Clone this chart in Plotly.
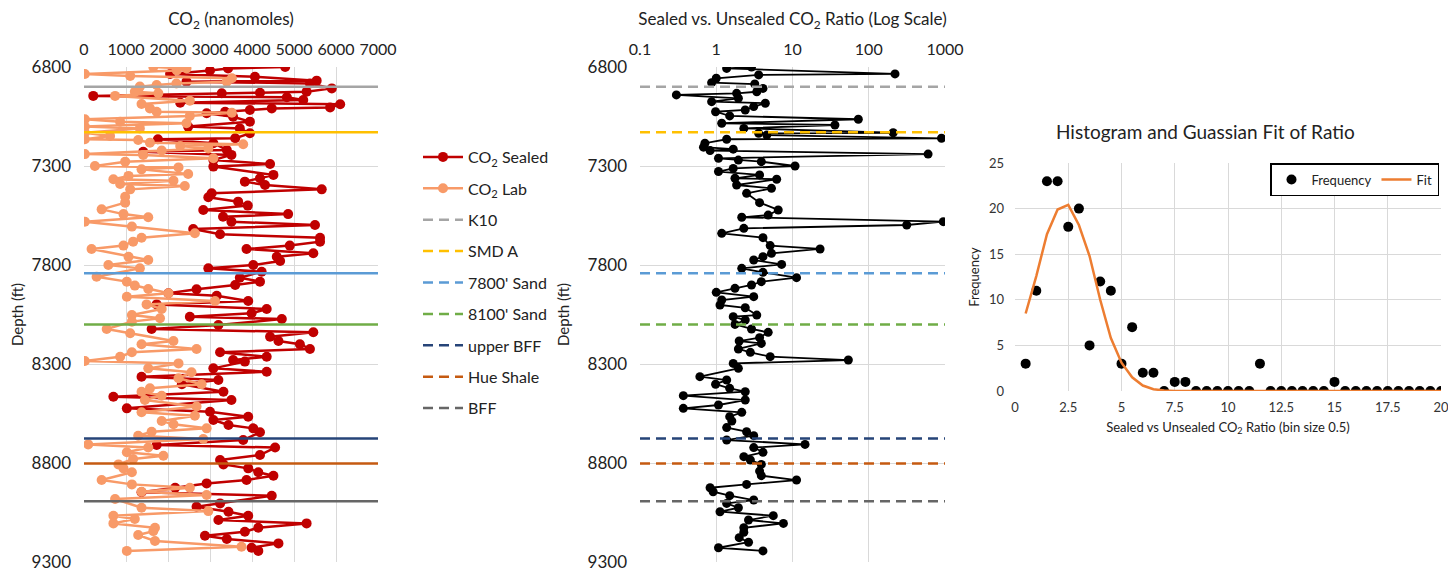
import plotly.graph_objects as go

# ---------------- data ----------------
sealed_depth = [6800, 6807, 6818, 6835, 6849, 6869, 6874, 6883, 6908, 6925, 6930, 6933, 6946, 6953, 6967, 6980,
                6988, 7004, 7009, 7017, 7026, 7034, 7051, 7076, 7101, 7110, 7135, 7160, 7165, 7185, 7219, 7228,
                7244, 7270, 7290, 7303, 7345, 7362, 7379, 7396, 7418, 7438, 7458, 7480, 7500, 7522, 7543, 7556,
                7581, 7598, 7618, 7645, 7662, 7682, 7702, 7719, 7741, 7758, 7780, 7800, 7817, 7834, 7864, 7884,
                7901, 7923, 7943, 7955, 7982, 7999, 8022, 8044, 8061, 8073, 8103, 8123, 8140, 8162, 8184, 8200,
                8224, 8241, 8263, 8280, 8288, 8322, 8339, 8364, 8381, 8402, 8440, 8465, 8482, 8524, 8541, 8566,
                8583, 8608, 8625, 8645, 8684, 8709, 8722, 8760, 8785, 8807, 8827, 8847, 8864, 8886, 8903, 8925,
                8948, 8965, 9004, 9021, 9046, 9066, 9088, 9105, 9127, 9147, 9167, 9184, 9206, 9228, 9244]
sealed_co2 = [4790, 3430, 3000, 2050, 4070, 5540, 2440, 5380, 5900, 5300, 4190, 3280, 220, 4830, 5220, 2290,
              6100, 5860, 4470, 3950, 3360, 2920, 3550, 3950, 2480, 3710, 3950, 3600, 1760, 3080, 3400, 1410,
              3510, 3080, 4430, 3080, 4510, 4190, 3830, 4310, 5660, 3040, 2960, 3670, 3900, 2840, 4860, 3310,
              3510, 5500, 2600, 3240, 5620, 5620, 4900, 3870, 5460, 4590, 4670, 4030, 2960, 4230, 3710, 4190,
              3600, 2680, 2010, 3160, 3910, 1730, 4350, 3990, 2520, 4710, 3200, 1610, 5460, 4430, 4630, 5140,
              5380, 3240, 4350, 3550, 3830, 3080, 4350, 1370, 3200, 2330, 3320, 700, 3510, 1020, 3000, 3910,
              3080, 3440, 4030, 4190, 3790, 1730, 4550, 4190, 3240, 3320, 3910, 4150, 4510, 3870, 2920, 2170,
              1370, 4470, 3240, 2680, 3440, 3910, 3200, 5300, 4150, 3830, 2880, 3400, 4630, 3990, 4150]

lab_depth = [6800, 6807, 6818, 6835, 6845, 6857, 6874, 6883, 6891, 6899, 6925, 6933, 6946, 6970, 6987, 7009,
             7026, 7031, 7047, 7064, 7076, 7084, 7101, 7110, 7132, 7148, 7165, 7169, 7182, 7190, 7199, 7211,
             7222, 7240, 7244, 7261, 7278, 7300, 7307, 7317, 7340, 7350, 7367, 7374, 7391, 7401, 7418, 7455,
             7485, 7519, 7543, 7559, 7581, 7606, 7640, 7662, 7682, 7702, 7719, 7758, 7775, 7800, 7817, 7859,
             7884, 7904, 7921, 7943, 7960, 7982, 7999, 8022, 8053, 8069, 8086, 8123, 8145, 8184, 8200, 8224,
             8241, 8263, 8285, 8297, 8322, 8342, 8372, 8402, 8423, 8440, 8460, 8482, 8515, 8544, 8561, 8588,
             8604, 8625, 8642, 8662, 8679, 8706, 8722, 8746, 8763, 8780, 8807, 8827, 8847, 8886, 8908, 8925,
             8945, 8962, 8982, 9026, 9043, 9066, 9083, 9105, 9127, 9144, 9164, 9194, 9223, 9244]
lab_co2 = [1650, 2440, 2210, 20, 1100, 3520, 3400, 2200, 1730, 1330, 1210, 1770, 740, 2520, 1370, 1570,
           1730, 3520, 2520, 20, 860, 2440, 20, 1330, 20, 620, 20, 1290, 1570, 3790, 2290, 2960,
           1850, 20, 1410, 3080, 980, 260, 2250, 1370, 2480, 1060, 700, 2130, 860, 2400, 1100, 980,
           980, 420, 940, 1530, 20, 1140, 2640, 1370, 1170, 940, 180, 1060, 1530, 580, 1330, 300,
           1020, 1210, 1530, 2010, 1020, 3120, 1490, 1850, 1140, 1810, 1140, 540, 1100, 2130, 1370, 2680,
           1140, 860, 20, 2250, 1530, 2560, 2250, 2800, 1570, 1370, 1850, 1450, 2680, 1370, 2640, 1850,
           2130, 2920, 1610, 1290, 2840, 100, 1530, 1020, 1890, 1170, 820, 940, 1140, 420, 1140, 2520,
           1370, 2920, 740, 1370, 2960, 700, 1210, 700, 1690, 1650, 1290, 1690, 3750, 1020]

ratio_depth = [6800, 6807, 6835, 6840, 6857, 6879, 6886, 6908, 6925, 6933, 6941, 6958, 6975, 6983, 7000, 7017,
               7026, 7047, 7064, 7084, 7093, 7110, 7132, 7135, 7144, 7160, 7165, 7185, 7205, 7215, 7222, 7240,
               7261, 7270, 7278, 7300, 7312, 7328, 7345, 7362, 7367, 7396, 7413, 7438, 7485, 7522, 7548, 7559,
               7581, 7598, 7615, 7640, 7662, 7702, 7719, 7741, 7758, 7775, 7797, 7817, 7837, 7864, 7884, 7901,
               7918, 7938, 7960, 7977, 8002, 8016, 8053, 8061, 8078, 8100, 8123, 8140, 8167, 8184, 8196, 8224,
               8241, 8263, 8280, 8297, 8322, 8364, 8381, 8402, 8423, 8440, 8460, 8482, 8507, 8524, 8544, 8566,
               8588, 8621, 8642, 8662, 8684, 8706, 8722, 8746, 8768, 8785, 8807, 8841, 8864, 8886, 8908, 8925,
               8945, 8965, 8987, 9004, 9026, 9046, 9066, 9088, 9105, 9127, 9150, 9177, 9200, 9228, 9244]
ratio = [2.9, 1.37, 221, 3.6, 1.0, 0.87, 3.2, 4.1, 3.4, 1.85, 0.30, 1.95, 0.87, 4.4, 3.1, 2.4,
         0.98, 1.5, 73, 1.18, 36, 2.3, 209, 3.6, 4.6, 900, 1.37, 0.71, 0.68, 1.67, 0.83, 600,
         1.07, 1.95, 3.9, 10.8, 1.67, 1.07, 3.7, 1.76, 6.2, 1.85, 5.3, 2.5, 3.7, 6.5, 4.8, 2.16,
         950, 315, 2.3, 1.18, 4.1, 5.1, 23, 5.3, 4.1, 3.1, 7.2, 2.16, 4.1, 11.3, 3.9, 2.9,
         1.76, 1.0, 3.1, 1.18, 1.12, 2.4, 3.4, 1.67, 2.4, 1.76, 2.9, 4.8, 3.7, 2.0, 3.9, 1.95,
         2.8, 5.1, 54, 1.67, 1.95, 0.61, 1.37, 0.98, 1.5, 2.4, 0.37, 2.4, 1.07, 0.37, 2.16, 1.5,
         1.6, 1.37, 2.5, 3.1, 1.37, 14.6, 3.1, 4.1, 2.3, 2.8, 3.9, 3.7, 3.9, 11.3, 2.5, 0.83,
         0.91, 1.5, 3.1, 1.37, 1.95, 1.12, 5.6, 2.65, 7.6, 2.3, 2.3, 2.0, 2.65, 1.07, 4.1]

formation_names = ["K10", "SMD A", "7800' Sand", "8100' Sand", "upper BFF", "Hue Shale", "BFF"]
formation_depths = [6900, 7130, 7842, 8100, 8676, 8803, 8993]
formation_colors = ["#A5A5A5", "#FFC000", "#5B9BD5", "#70AD47", "#264478", "#C55A11", "#666666"]

bins = [0.5, 1, 1.5, 2, 2.5, 3, 3.5, 4, 4.5, 5, 5.5, 6, 6.5, 7, 7.5, 8, 8.5, 9, 9.5, 10,
        10.5, 11, 11.5, 12, 12.5, 13, 13.5, 14, 14.5, 15, 15.5, 16, 16.5, 17, 17.5, 18, 18.5, 19, 19.5, 20]
frequency = [3, 11, 23, 23, 18, 20, 5, 12, 11, 3, 7, 2, 2, 0, 1, 1, 0, 0, 0, 0,
             0, 0, 3, 0, 0, 0, 0, 0, 0, 1, 0, 0, 0, 0, 0, 0, 0, 0, 0, 0]
fit = [8.5, 12.6, 17.2, 19.9, 20.4, 18.2, 14.8, 10.0, 5.8, 3.1, 1.5, 0.6, 0.2, 0.05, 0.01, 0, 0, 0, 0, 0,
       0, 0, 0, 0, 0, 0, 0, 0, 0, 0, 0, 0, 0, 0, 0, 0, 0, 0, 0, 0]

# ---------------- figure ----------------
W, H = 1456, 571
OX, OY = 8, 8  # page body margin offset
FONT = "Lato, Carlito, Calibri, sans-serif"
GRID = "#D9D9D9"
RED = "#C00000"
LAB = "#F89A68"


def px(x):
    return (x - OX) / W


def py(y):
    return 1 - (y - OY) / H


def dx(a, b):
    return [px(a), px(b)]


def dy(top, bottom):
    return [py(bottom), py(top)]


fig = go.Figure()

# left panel
fig.add_trace(go.Scatter(x=sealed_co2, y=sealed_depth, mode="lines+markers", name="CO<sub>2</sub> Sealed",
                         line=dict(color=RED, width=2.5), marker=dict(color=RED, size=10),
                         xaxis="x", yaxis="y", legendgroup="a", legend="legend"))
fig.add_trace(go.Scatter(x=lab_co2, y=lab_depth, mode="lines+markers", name="CO<sub>2</sub> Lab",
                         line=dict(color=LAB, width=2.5), marker=dict(color=LAB, size=10),
                         xaxis="x", yaxis="y", legendgroup="b", legend="legend"))
for nm, d, c in zip(formation_names, formation_depths, formation_colors):
    fig.add_trace(go.Scatter(x=[0, 7000], y=[d, d], mode="lines", name=nm, showlegend=False,
                             line=dict(color=c, width=2.5), xaxis="x", yaxis="y", hoverinfo="skip"))

# middle panel
fig.add_trace(go.Scatter(x=ratio, y=ratio_depth, mode="lines+markers", name="Ratio", showlegend=False,
                         line=dict(color="black", width=1.8), marker=dict(color="black", size=9),
                         xaxis="x2", yaxis="y2"))
for i, (nm, d, c) in enumerate(zip(formation_names, formation_depths, formation_colors)):
    fig.add_trace(go.Scatter(x=[0.1, 1000], y=[d, d], mode="lines", name=nm,
                             line=dict(color=c, width=2.5, dash="10px,6px"),
                             xaxis="x2", yaxis="y2", legendgroup="f%d" % i, legend="legend"))

# right panel
fig.add_trace(go.Scatter(x=bins, y=frequency, mode="markers", name="Frequency",
                         marker=dict(color="black", size=10), xaxis="x3", yaxis="y3", legend="legend2"))
fig.add_trace(go.Scatter(x=bins, y=fit, mode="lines", name="Fit",
                         line=dict(color="#ED7D31", width=2.5), xaxis="x3", yaxis="y3", legend="legend2"))

axis_common = dict(showgrid=True, gridcolor=GRID, gridwidth=1, zeroline=False, showline=False,
                   ticks="", automargin=False, tickfont=dict(size=15, color="#222"))

depth_axis = dict(axis_common, range=[9300, 6800], tickvals=[6800, 7300, 7800, 8300, 8800, 9300],
                  tickfont=dict(size=17, color="#222"), ticklabelstandoff=12,
                  title=dict(text="Depth (ft)", font=dict(size=15, color="#222"), standoff=14))

fig.update_layout(
    width=W, height=H,
    margin=dict(l=0, r=0, t=0, b=0, autoexpand=False),
    paper_bgcolor="white", plot_bgcolor="white",
    font=dict(family=FONT, color="#222"),
    xaxis=dict(axis_common, domain=dx(84, 378), range=[0, 7000], dtick=1000, side="top",
               anchor="y", ticklabelstandoff=8, tickfont=dict(size=16, color="#222"),
               title=dict(text="CO<sub>2</sub> (nanomoles)", font=dict(size=17, color="#222"), standoff=10)),
    yaxis=dict(depth_axis, domain=dy(67, 562), anchor="x"),
    xaxis2=dict(axis_common, domain=dx(640, 945), type="log", range=[-1, 3],
                tickvals=[0.1, 1, 10, 100, 1000], ticktext=["0.1", "1", "10", "100", "1000"],
                side="top", anchor="y2", ticklabelstandoff=8, tickfont=dict(size=16, color="#222"),
                title=dict(text="Sealed vs. Unsealed CO<sub>2</sub> Ratio (Log Scale)",
                           font=dict(size=17, color="#222"), standoff=10)),
    yaxis2=dict(depth_axis, domain=dy(67, 562), anchor="x2"),
    xaxis3=dict(axis_common, domain=dx(1015, 1441), range=[0, 20], dtick=2.5, anchor="y3",
                tickfont=dict(size=13, color="#333"), ticklabelstandoff=7,
                title=dict(text="Sealed vs Unsealed CO<sub>2</sub> Ratio (bin size 0.5)",
                           font=dict(size=13, color="#222"), standoff=8)),
    yaxis3=dict(axis_common, domain=dy(163, 391), range=[0, 25], dtick=5, anchor="x3",
                tickfont=dict(size=13, color="#333"), ticklabelstandoff=10,
                title=dict(text="Frequency", font=dict(size=13, color="#222"), standoff=6)),
    legend=dict(x=px(418), y=py(140), xanchor="left", yanchor="top",
                font=dict(size=16, color="#222"), tracegroupgap=7.6, itemwidth=40,
                bgcolor="rgba(0,0,0,0)"),
    legend2=dict(x=px(1439), y=py(163), xanchor="right", yanchor="top", orientation="h",
                 font=dict(size=13, color="#222"), bordercolor="black", borderwidth=1.5,
                 bgcolor="white", itemwidth=30),
    annotations=[dict(text="Histogram and Guassian Fit of Ratio", x=px(1205), y=py(132),
                      xanchor="center", yanchor="middle",
                      xref="paper", yref="paper", showarrow=False, font=dict(size=19, color="#222"))],
)

fig.write_html("out.html")
